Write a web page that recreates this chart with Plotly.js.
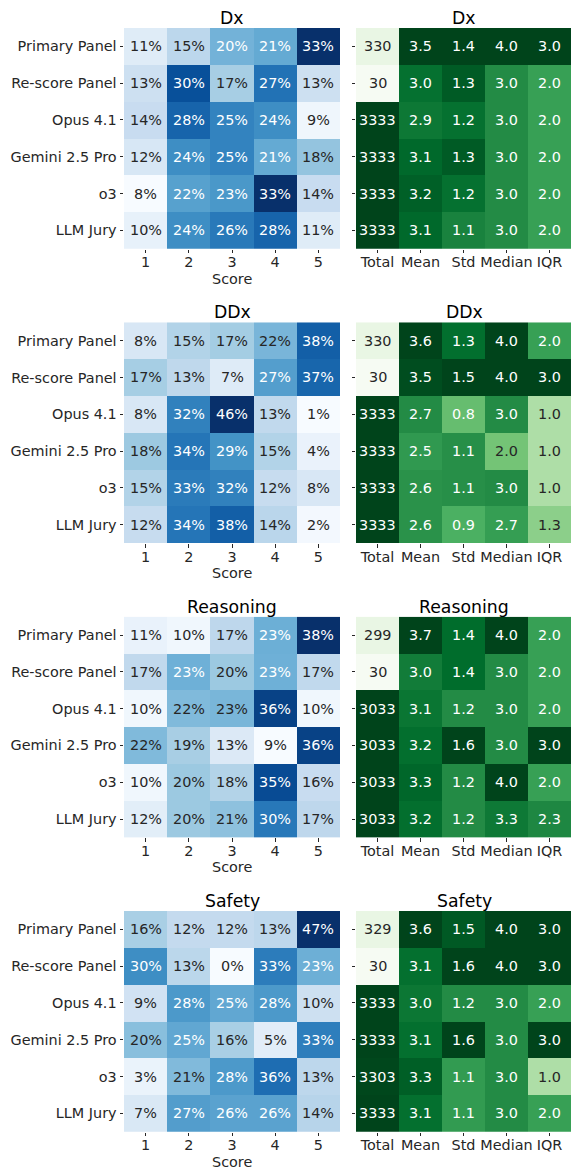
<!DOCTYPE html>
<html>
<head>
<meta charset="utf-8">
<script src="https://cdn.plot.ly/plotly-3.0.1.min.js"></script>
<style>html,body{margin:0;padding:0;background:#fff;}#chart{width:571px;height:1172px;}</style>
</head>
<body>
<div id="chart"></div>
<script>
// ---------- data ----------
const raters = ['Primary Panel', 'Re-score Panel', 'Opus 4.1', 'Gemini 2.5 Pro', 'o3', 'LLM Jury'];
const scores = ['1', '2', '3', '4', '5'];
const statNames = ['Total', 'Mean', 'Std', 'Median', 'IQR'];
const aspects = ['Dx', 'DDx', 'Reasoning', 'Safety'];

// score distribution (% of ratings at each score)
const dxPct = [[11, 15, 20, 21, 33], [13.3, 30, 16.7, 26.7, 13.3], [14, 28, 25, 24, 9], [12, 24, 25, 21, 18], [8, 22, 23, 33, 14], [10, 24, 26, 28, 11]];
const ddxPct = [[8, 15, 17, 22, 38], [16.7, 13.3, 6.7, 26.7, 36.7], [8, 32, 46, 13, 1], [18, 34, 29, 15, 4], [15, 33, 32, 12, 8], [12, 34, 38, 14, 2]];
const reasoningPct = [[11, 10, 17, 23.4, 38], [16.7, 23.3, 20, 23.3, 16.7], [10, 22, 22.5, 36, 10], [22, 19, 13, 9, 36], [10, 20, 18, 35, 16], [12, 20, 21, 30, 17]];
const safetyPct = [[16, 12, 12, 13, 47], [30, 13.3, 0, 33.3, 23.3], [9, 28, 25, 28, 10], [20, 25, 16, 5, 33], [3, 21, 28, 36, 13], [7, 27, 26, 26, 14]];

// summary statistics per rater
const dxTotal = [330, 30, 3333, 3333, 3333, 3333];
const dxMean = [3.5, 3.0, 2.9, 3.1, 3.2, 3.1];
const dxStd = [1.4, 1.3, 1.2, 1.3, 1.2, 1.1];
const dxMedian = [4.0, 3.0, 3.0, 3.0, 3.0, 3.0];
const dxIqr = [3.0, 2.0, 2.0, 2.0, 2.0, 2.0];

const ddxTotal = [330, 30, 3333, 3333, 3333, 3333];
const ddxMean = [3.6, 3.5, 2.7, 2.5, 2.6, 2.6];
const ddxStd = [1.3, 1.5, 0.8, 1.1, 1.1, 0.9];
const ddxMedian = [4.0, 4.0, 3.0, 2.0, 3.0, 2.7];
const ddxIqr = [2.0, 3.0, 1.0, 1.0, 1.0, 1.3];

const reasoningTotal = [299, 30, 3033, 3033, 3033, 3033];
const reasoningMean = [3.7, 3.0, 3.1, 3.2, 3.3, 3.2];
const reasoningStd = [1.4, 1.4, 1.2, 1.6, 1.2, 1.2];
const reasoningMedian = [4.0, 3.0, 3.0, 3.0, 4.0, 3.3];
const reasoningIqr = [2.0, 2.0, 2.0, 3.0, 2.0, 2.3];

const safetyTotal = [329, 30, 3333, 3333, 3303, 3333];
const safetyMean = [3.6, 3.1, 3.0, 3.1, 3.3, 3.1];
const safetyStd = [1.5, 1.6, 1.2, 1.6, 1.1, 1.1];
const safetyMedian = [4.0, 4.0, 3.0, 3.0, 3.0, 3.0];
const safetyIqr = [3.0, 3.0, 2.0, 3.0, 1.0, 2.0];

const pctSets = [dxPct, ddxPct, reasoningPct, safetyPct];
const statSets = [
  [dxTotal, dxMean, dxStd, dxMedian, dxIqr],
  [ddxTotal, ddxMean, ddxStd, ddxMedian, ddxIqr],
  [reasoningTotal, reasoningMean, reasoningStd, reasoningMedian, reasoningIqr],
  [safetyTotal, safetyMean, safetyStd, safetyMedian, safetyIqr]
];

// ---------- styling ----------
const BLUES = ['#f7fbff', '#deebf7', '#c6dbef', '#9ecae1', '#6baed6', '#4292c6', '#2171b5', '#08519c', '#08306b'];
const GREENS = ['#f7fcf5', '#e5f5e0', '#c7e9c0', '#a1d99b', '#74c476', '#41ab5d', '#238b45', '#006d2c', '#00441b'];
const FONT = 'DejaVu Sans, Arial, sans-serif';
const INK = '#262626';
const W = 571, H = 1172;

function toScale(cols) { return cols.map((c, i) => [i / (cols.length - 1), c]); }
function hexRgb(h) { return [1, 3, 5].map(i => parseInt(h.substr(i, 2), 16)); }
function sample(cols, t) {
  t = Math.max(0, Math.min(1, t));
  const p = t * (cols.length - 1);
  const i = Math.min(Math.floor(p), cols.length - 2);
  const f = p - i;
  const a = hexRgb(cols[i]), b = hexRgb(cols[i + 1]);
  return a.map((v, k) => v + (b[k] - v) * f);
}
function textColor(cols, t) {
  const rgb = sample(cols, t).map(v => {
    const c = v / 255;
    return c <= 0.03928 ? c / 12.92 : Math.pow((c + 0.055) / 1.055, 2.4);
  });
  const lum = 0.2126 * rgb[0] + 0.7152 * rgb[1] + 0.0722 * rgb[2];
  return lum > 0.408 ? INK : '#ffffff';
}

const leftDom = [124 / W, 340 / W];
const rightDom = [356 / W, 1];
const panelTop = [28, 322.3, 616.7, 911];
const panelH = 220.7;

const data = [];
const layout = {
  width: W, height: H,
  margin: {l: 0, r: 0, t: 0, b: 0},
  paper_bgcolor: '#ffffff', plot_bgcolor: '#ffffff',
  font: {family: FONT, size: 14.4, color: INK},
  showlegend: false,
  annotations: []
};

function axisBase() {
  return {
    type: 'category', showgrid: false, zeroline: false, showline: false,
    ticks: 'outside', ticklen: 3.5, tickwidth: 1, tickcolor: INK,
    tickfont: {family: FONT, size: 14.4, color: INK}, fixedrange: true
  };
}

aspects.forEach((name, k) => {
  const top = panelTop[k], bot = top + panelH;
  const yDom = [1 - bot / H, 1 - top / H];
  const li = 2 * k + 1, ri = 2 * k + 2;
  const lx = 'x' + li, ly = 'y' + li, rx = 'x' + ri, ry = 'y' + ri;

  // left: score distribution
  const pct = pctSets[k];
  const flat = pct.flat();
  const pmin = Math.min(...flat), pmax = Math.max(...flat);
  data.push({
    type: 'heatmap', x: scores, y: raters, z: pct, xaxis: lx, yaxis: ly,
    colorscale: toScale(BLUES), zmin: pmin, zmax: pmax, showscale: false, hoverinfo: 'skip'
  });
  layout['xaxis' + li] = Object.assign(axisBase(), {domain: leftDom, anchor: ly, ticklabelstandoff: -3});
  layout['yaxis' + li] = Object.assign(axisBase(), {domain: yDom, anchor: lx, autorange: 'reversed'});
  pct.forEach((row, r) => row.forEach((v, c) => {
    layout.annotations.push({
      xref: lx, yref: ly, x: c, y: r, text: Math.round(v) + '%', showarrow: false,
      font: {family: FONT, size: 14.4, color: textColor(BLUES, (v - pmin) / (pmax - pmin))}
    });
  }));

  // right: summary statistics, each column scaled by its own maximum
  const stats = statSets[k];
  const colMax = stats.map(col => Math.max(...col));
  const zNorm = raters.map((_, r) => stats.map((col, c) => col[r] / colMax[c]));
  data.push({
    type: 'heatmap', x: statNames, y: raters, z: zNorm, xaxis: rx, yaxis: ry,
    colorscale: toScale(GREENS), zmin: 0, zmax: 1, showscale: false, hoverinfo: 'skip'
  });
  layout['xaxis' + ri] = Object.assign(axisBase(), {domain: rightDom, anchor: ry, ticklabelstandoff: -3});
  layout['yaxis' + ri] = Object.assign(axisBase(), {domain: yDom, anchor: rx, autorange: 'reversed', showticklabels: false});
  stats.forEach((col, c) => col.forEach((v, r) => {
    layout.annotations.push({
      xref: rx, yref: ry, x: c, y: r,
      text: c === 0 ? String(Math.round(v)) : v.toFixed(1), showarrow: false,
      font: {family: FONT, size: 14.4, color: textColor(GREENS, v / colMax[c])}
    });
  }));

  // titles
  [leftDom, [rightDom[0], 572 / W]].forEach(dom => {
    layout.annotations.push({
      xref: 'paper', yref: 'paper', x: (dom[0] + dom[1]) / 2, y: 1 - (top - 10) / H,
      xanchor: 'center', yanchor: 'middle', text: name, showarrow: false,
      font: {family: FONT, size: 17.3, color: '#000000'}
    });
  });
  layout.annotations.push({
    xref: 'paper', yref: 'paper', x: (leftDom[0] + leftDom[1]) / 2, y: 1 - (bot + 30) / H,
    xanchor: 'center', yanchor: 'middle', text: 'Score', showarrow: false,
    font: {family: FONT, size: 14.4, color: INK}
  });
});

Plotly.newPlot('chart', data, layout, {displayModeBar: false, staticPlot: true});
</script>
</body>
</html>
